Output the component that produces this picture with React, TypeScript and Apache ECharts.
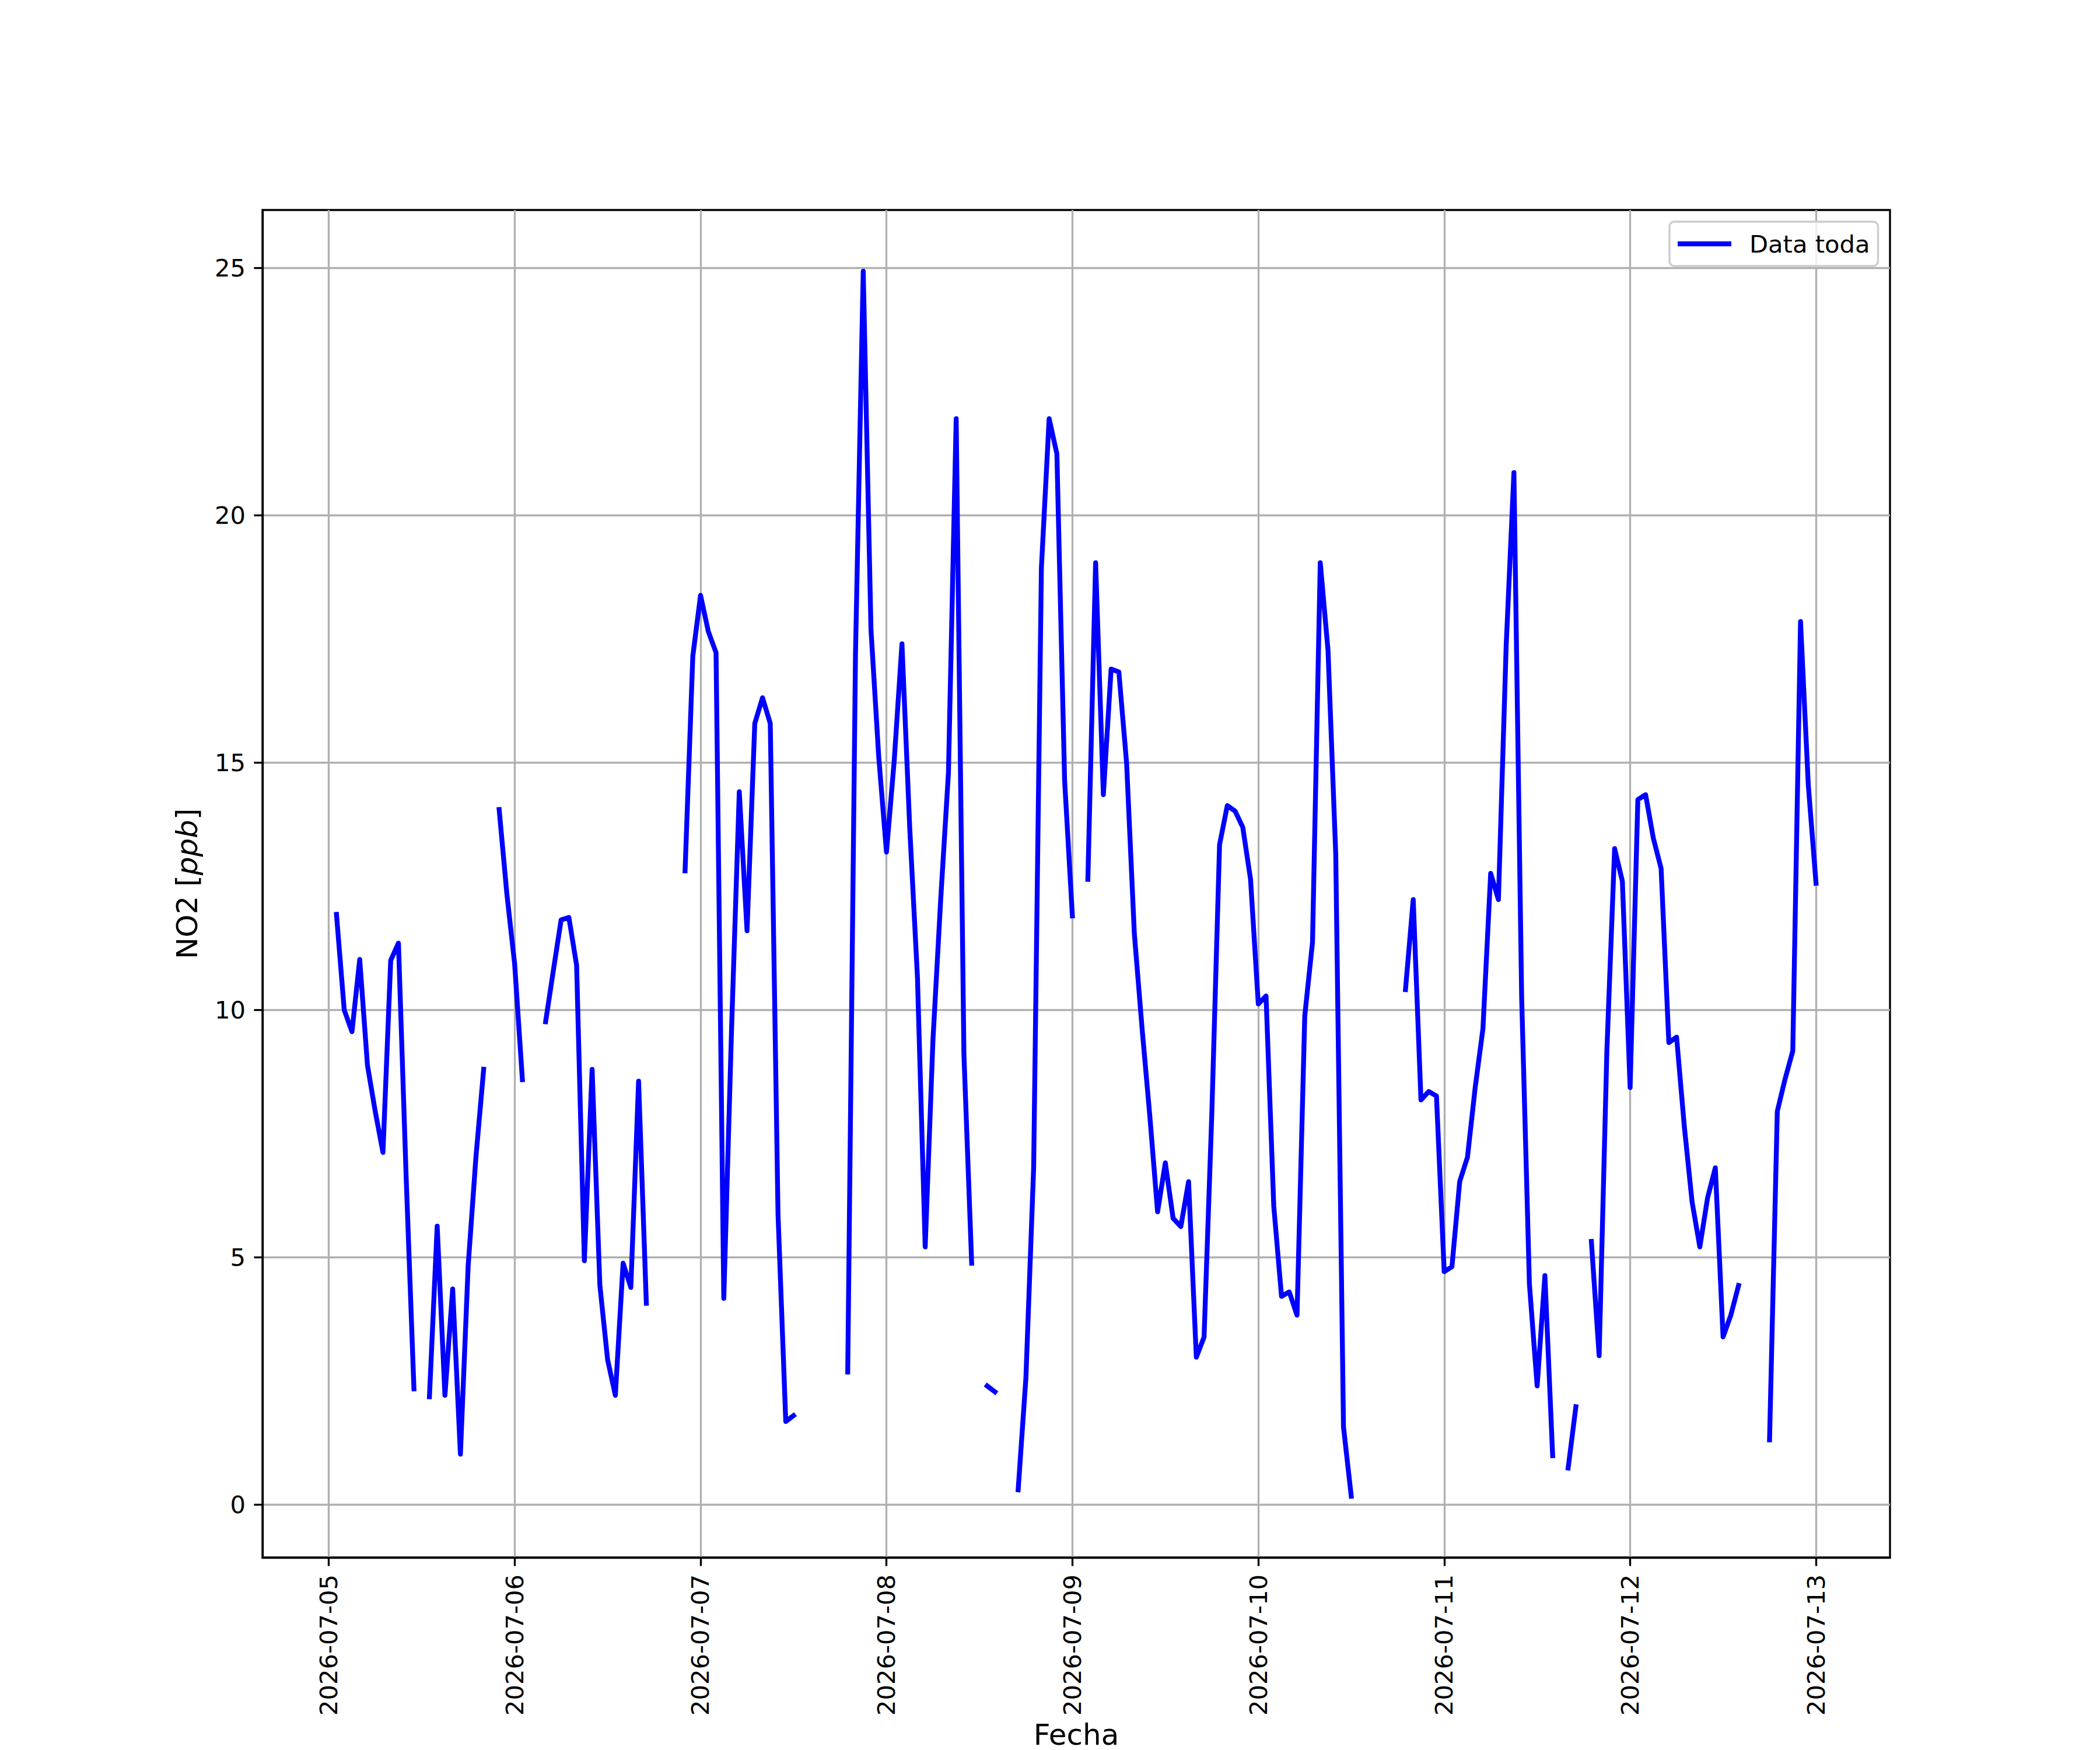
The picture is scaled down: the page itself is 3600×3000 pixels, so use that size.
import React, { useEffect, useRef } from "react";
import * as echarts from "echarts";

// Hourly NO2 values (ppb), one array per day, hours 00..23; null = no data
const day0705 = [null, 11.93, 10.0, 9.56, 11.02, 8.88, 7.95, 7.12, 11.0, 11.35, 6.6, 2.34, null, 2.18, 5.63, 2.21, 4.36, 1.02, 4.83, 7.02, 8.8, null, 14.05, 12.34];
const day0706 = [10.93, 8.59, null, null, 9.76, 10.8, 11.82, 11.87, 10.9, 4.93, 8.8, 4.44, 2.93, 2.21, 4.88, 4.39, 8.56, 4.07, null, null, null, null, 12.81, 17.15];
const day0707 = [18.38, 17.65, 17.22, 4.17, 9.6, 14.41, 11.6, 15.79, 16.31, 15.79, 5.87, 1.68, 1.8, null, null, null, null, null, null, 2.68, 17.19, 24.93, 17.69, 15.12];
const day0708 = [13.19, 15.04, 17.4, 13.69, 10.66, 5.21, 9.39, 12.23, 14.79, 21.95, 9.09, 4.88, null, 2.4, 2.28, null, null, 0.3, 2.56, 6.81, 18.93, 21.95, 21.24, 14.63];
const day0709 = [11.9, null, 12.64, 19.04, 14.35, 16.89, 16.83, 14.99, 11.54, 9.62, 7.85, 5.92, 6.91, 5.79, 5.62, 6.53, 2.98, 3.39, 7.9, 13.34, 14.13, 14.02, 13.69, 12.64];
const day0710 = [10.12, 10.28, 6.03, 4.21, 4.3, 3.83, 9.88, 11.37, 19.04, 17.27, 13.14, 1.57, 0.17, null, null, null, null, null, null, 10.41, 12.23, 8.18, 8.35, 8.26];
const day0711 = [4.71, 4.81, 6.53, 7.02, 8.43, 9.62, 12.76, 12.23, 17.36, 20.86, 10.25, 4.46, 2.4, 4.63, 0.99, null, 0.74, 1.98, null, 5.32, 3.01, 9.17, 13.26, 12.6];
const day0712 = [8.43, 14.25, 14.35, 13.47, 12.86, 9.34, 9.45, 7.64, 6.12, 5.21, 6.2, 6.81, 3.39, 3.83, 4.43, null, null, null, 1.31, 7.95, 8.6, 9.17, 17.85, 14.55];
const day0713 = [12.56];

const startDate = Date.UTC(2026, 6, 5, 0, 0, 0);
const HOUR = 3600 * 1000;
const tickDays = [5, 6, 7, 8, 9, 10, 11, 12, 13];
const yTicks = [0, 5, 10, 15, 20, 25];

const seriesName = "Data toda";
const xTitle = "Fecha";

export default function App() {
  const ref = useRef<HTMLDivElement>(null);

  useEffect(() => {
    document.body.style.margin = "0";
    if (!ref.current) return;
    const chart = echarts.init(ref.current, undefined, { renderer: "svg" });

    const values = [
      ...day0705, ...day0706, ...day0707, ...day0708, ...day0709,
      ...day0710, ...day0711, ...day0712, ...day0713,
    ];
    const data = values.map((v, i) => [startDate + i * HOUR, v]);
    const valid = data.filter((d) => d[1] !== null);
    const tMin = valid[0][0] as number;
    const tMax = valid[valid.length - 1][0] as number;
    const yVals = valid.map((d) => d[1] as number);
    const vMin = Math.min(...yVals);
    const vMax = Math.max(...yVals);
    const xm = (tMax - tMin) * 0.05;
    const ym = (vMax - vMin) * 0.05;
    const xTickVals = tickDays.map((d) => Date.UTC(2026, 6, d));

    const font = "DejaVu Sans";
    const tickFs = 41.67;
    const labelFs = 50;
    const lw = 3.33;

    chart.setOption({
      animation: false,
      backgroundColor: "#ffffff",
      grid: {
        left: 450,
        top: 360,
        width: 2790,
        height: 2310,
        show: true,
        borderColor: "#000000",
        borderWidth: lw,
        backgroundColor: "transparent",
        outerBoundsMode: "none",
        containLabel: false,
      },
      legend: {
        show: true,
        data: [seriesName],
        left: 2862,
        top: 380,
        orient: "horizontal",
        icon: "rect",
        itemWidth: 92,
        itemHeight: 8.33,
        padding: [13, 14],
        backgroundColor: "rgba(255,255,255,0.8)",
        borderColor: "#cccccc",
        borderWidth: 3.33,
        borderRadius: 8,
        itemStyle: { borderWidth: 0 },
        textStyle: {
          fontFamily: font,
          fontSize: tickFs,
          color: "#000000",
          lineHeight: 50,
          padding: [0, 0, 0, 26],
        },
        selectedMode: false,
      },
      xAxis: {
        type: "value",
        min: tMin - xm,
        max: tMax + xm,
        name: xTitle,
        nameLocation: "middle",
        nameGap: 282,
        nameTextStyle: { fontFamily: font, fontSize: labelFs, color: "#000000", lineHeight: 38 },
        axisLine: { show: true, onZero: false, lineStyle: { color: "#000000", width: lw } },
        axisTick: {
          show: true,
          inside: false,
          length: 14.6,
          customValues: xTickVals,
          lineStyle: { color: "#000000", width: lw },
        },
        axisLabel: {
          show: true,
          customValues: xTickVals,
          rotate: 90,
          margin: 29,
          fontFamily: font,
          fontSize: tickFs,
          color: "#000000",
          hideOverlap: false,
          formatter: (v: number) => new Date(v).toISOString().slice(0, 10),
        },
        splitLine: { show: true, lineStyle: { color: "#b0b0b0", width: lw } },
      },
      yAxis: {
        type: "value",
        min: vMin - ym,
        max: vMax + ym,
        name: "NO2 [{it|ppb}]",
        nameLocation: "middle",
        nameGap: 104,
        nameRotate: 90,
        nameTextStyle: {
          fontFamily: font,
          fontSize: labelFs,
          color: "#000000",
          lineHeight: 50,
          rich: {
            it: { fontFamily: font, fontSize: labelFs, fontStyle: "italic", color: "#000000", lineHeight: 50 },
          },
        },
        axisLine: { show: true, onZero: false, lineStyle: { color: "#000000", width: lw } },
        axisTick: {
          show: true,
          inside: false,
          length: 14.6,
          customValues: yTicks,
          lineStyle: { color: "#000000", width: lw },
        },
        axisLabel: {
          show: true,
          customValues: yTicks,
          margin: 29,
          fontFamily: font,
          fontSize: tickFs,
          color: "#000000",
          formatter: (v: number) => String(v),
        },
        splitLine: { show: true, lineStyle: { color: "#b0b0b0", width: lw } },
      },
      series: [
        {
          name: seriesName,
          type: "line",
          data: data,
          showSymbol: false,
          symbol: "none",
          connectNulls: false,
          itemStyle: { color: "#0000ff" },
          lineStyle: { color: "#0000ff", width: 8.33, cap: "square", join: "round" },
          z: 3,
        },
      ],
    });

    return () => chart.dispose();
  }, []);

  return <div ref={ref} style={{ width: 3600, height: 3000 }} />;
}
